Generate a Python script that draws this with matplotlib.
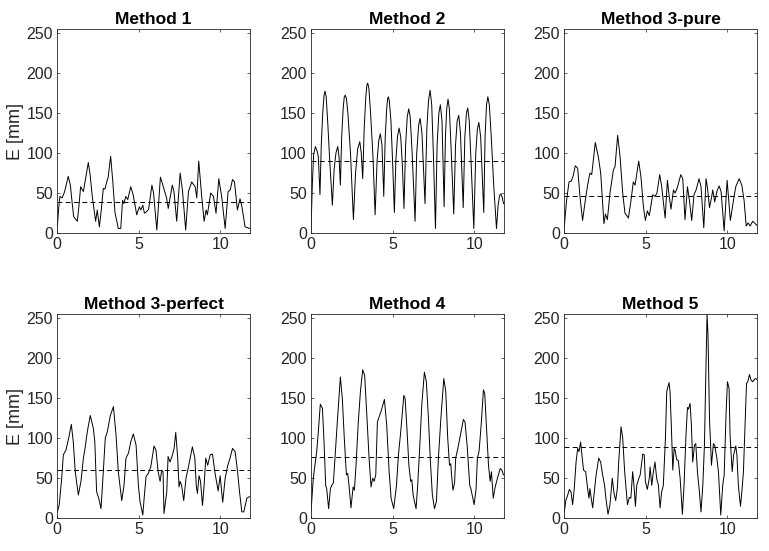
import matplotlib
matplotlib.use("Agg")
import matplotlib.pyplot as plt

plt.rcParams['font.family'] = ['Liberation Sans', 'DejaVu Sans']

titles = ["Method 1", "Method 2", "Method 3-pure", "Method 3-perfect", "Method 4", "Method 5"]
means = [39, 90, 46, 60, 76, 89]

m1 = [(0,8),(0.08,30),(0.16,46),(0.3,44),(0.45,52),(0.67,71),(0.8,60),(0.9,40),(1.0,21),(1.1,18),(1.23,15),(1.33,35),(1.43,58),(1.6,52),(1.75,70),(1.9,88),(2.0,75),(2.15,45),(2.35,15),(2.45,29),(2.58,8),(2.7,30),(2.82,56),(2.92,55),(3.03,64),(3.12,70),(3.27,96),(3.4,65),(3.54,25),(3.65,15),(3.74,6),(3.89,6),(4.0,41),(4.08,37),(4.2,46),(4.32,42),(4.5,58),(4.65,48),(4.87,23),(5.03,33),(5.12,29),(5.24,35),(5.34,25),(5.48,27),(5.6,30),(5.8,60),(5.9,50),(6.1,4),(6.32,70),(6.5,58),(6.7,44),(6.8,31),(7.05,60),(7.15,52),(7.32,15),(7.53,75),(7.67,54),(7.87,4),(8.04,52),(8.24,64),(8.45,58),(8.55,44),(8.67,90),(8.85,46),(9.0,15),(9.12,29),(9.2,23),(9.4,50),(9.57,46),(9.73,25),(9.9,68),(10.08,45),(10.29,6),(10.47,52),(10.6,54),(10.74,67),(10.86,64),(11.04,29),(11.2,43),(11.3,35),(11.51,8),(11.8,6)]

m2 = [(0,4),(0.08,60),(0.16,98),(0.27,108),(0.38,102),(0.45,95),(0.55,48),(0.63,110),(0.72,150),(0.8,172),(0.86,177),(0.93,170),(1.02,140),(1.15,90),(1.31,35),(1.42,80),(1.53,100),(1.64,108),(1.72,95),(1.8,60),(1.88,120),(1.97,155),(2.04,170),(2.1,172),(2.17,168),(2.26,150),(2.42,100),(2.6,17),(2.73,75),(2.86,105),(2.99,114),(3.08,100),(3.17,68),(3.26,130),(3.36,170),(3.43,185),(3.48,187),(3.55,180),(3.65,150),(3.8,95),(3.93,23),(4.05,90),(4.15,115),(4.25,124),(4.35,110),(4.46,46),(4.55,120),(4.64,155),(4.7,168),(4.74,170),(4.8,165),(4.9,140),(5.0,90),(5.11,26),(5.2,90),(5.3,120),(5.4,131),(5.5,120),(5.6,85),(5.7,31),(5.8,110),(5.9,145),(5.99,155),(6.08,145),(6.2,100),(6.38,15),(6.48,100),(6.6,135),(6.69,143),(6.8,125),(6.99,37),(7.1,130),(7.2,165),(7.3,178),(7.4,160),(7.5,100),(7.63,6),(7.73,110),(7.84,150),(7.93,160),(8.03,140),(8.16,33),(8.24,120),(8.32,155),(8.4,167),(8.48,155),(8.6,100),(8.75,24),(8.86,110),(8.96,140),(9.06,147),(9.16,125),(9.33,32),(9.43,120),(9.53,150),(9.61,156),(9.7,140),(9.82,85),(9.98,6),(10.1,100),(10.2,130),(10.29,138),(10.4,120),(10.59,26),(10.67,120),(10.76,160),(10.84,170),(10.93,160),(11.05,120),(11.2,60),(11.37,6),(11.47,35),(11.56,47),(11.64,49),(11.72,45),(11.8,37)]

m3_pure = [(0,8),(0.14,41),(0.29,64),(0.43,65),(0.55,72),(0.67,84),(0.82,81),(0.96,46),(1.12,16),(1.28,40),(1.43,60),(1.57,75),(1.68,73),(1.9,113),(2.09,95),(2.23,75),(2.43,12),(2.52,24),(2.64,17),(2.8,50),(3.01,79),(3.11,83),(3.27,122),(3.42,95),(3.58,50),(3.72,25),(3.93,19),(4.09,41),(4.23,64),(4.34,60),(4.56,90),(4.7,70),(4.85,33),(4.97,16),(5.09,28),(5.21,22),(5.42,48),(5.56,46),(5.68,50),(5.85,73),(5.97,58),(6.18,19),(6.32,66),(6.43,46),(6.54,30),(6.69,54),(6.79,50),(6.93,57),(7.14,73),(7.26,68),(7.4,17),(7.55,58),(7.67,41),(7.81,16),(7.95,48),(8.08,54),(8.26,68),(8.38,58),(8.55,7),(8.69,68),(8.78,56),(8.9,32),(9.02,44),(9.1,54),(9.22,39),(9.35,52),(9.49,59),(9.61,52),(9.8,3),(9.98,66),(10.18,16),(10.37,41),(10.51,58),(10.72,68),(10.88,60),(11.02,41),(11.15,9),(11.27,13),(11.39,9),(11.55,15),(11.7,12),(11.8,10)]

m3_perfect = [(0,8),(0.12,17),(0.27,50),(0.37,79),(0.53,85),(0.7,100),(0.86,117),(0.98,95),(1.1,58),(1.29,29),(1.45,46),(1.6,75),(1.7,87),(1.84,108),(2.02,128),(2.21,112),(2.3,95),(2.41,33),(2.54,25),(2.68,12),(2.82,58),(2.94,100),(3.07,108),(3.25,128),(3.44,139),(3.6,104),(3.74,58),(3.95,22),(4.09,41),(4.21,75),(4.36,81),(4.5,95),(4.66,105),(4.83,91),(4.97,41),(5.07,21),(5.24,4),(5.34,29),(5.44,52),(5.58,56),(5.73,64),(5.93,90),(6.05,85),(6.18,58),(6.3,46),(6.4,60),(6.48,58),(6.54,6),(6.71,33),(6.79,77),(6.91,70),(7.06,79),(7.16,87),(7.26,107),(7.38,75),(7.46,39),(7.53,46),(7.62,41),(7.75,22),(7.89,50),(8.04,64),(8.28,89),(8.43,75),(8.52,40),(8.59,31),(8.69,53),(8.78,46),(8.9,16),(9.0,41),(9.1,75),(9.22,66),(9.37,79),(9.51,80),(9.68,55),(9.86,34),(9.98,53),(10.14,20),(10.29,50),(10.45,66),(10.59,75),(10.74,87),(10.9,83),(11.04,60),(11.17,33),(11.31,8),(11.43,8),(11.62,25),(11.78,27)]

m4 = [(0,8),(0.14,50),(0.24,66),(0.35,83),(0.45,108),(0.57,142),(0.7,137),(0.8,95),(0.9,41),(0.96,37),(1.08,12),(1.19,37),(1.27,41),(1.37,44),(1.47,75),(1.6,116),(1.8,176),(1.92,149),(2.04,100),(2.17,54),(2.25,56),(2.33,41),(2.45,13),(2.58,39),(2.66,35),(2.76,66),(2.9,120),(3.03,158),(3.17,185),(3.29,178),(3.41,133),(3.56,75),(3.68,39),(3.78,50),(3.87,46),(3.97,54),(4.07,120),(4.17,126),(4.29,133),(4.5,148),(4.64,116),(4.79,58),(4.91,25),(5.07,12),(5.24,41),(5.36,79),(5.5,108),(5.69,153),(5.77,149),(5.89,108),(6.0,66),(6.11,46),(6.18,48),(6.26,29),(6.44,12),(6.54,41),(6.67,91),(6.79,141),(6.95,182),(7.07,170),(7.2,124),(7.32,70),(7.44,29),(7.57,12),(7.69,21),(7.81,75),(7.96,124),(8.14,174),(8.26,158),(8.38,100),(8.49,66),(8.57,68),(8.6,58),(8.7,35),(8.8,44),(8.87,75),(9.0,87),(9.2,108),(9.34,123),(9.44,120),(9.57,91),(9.73,41),(9.8,37),(10.0,17),(10.12,37),(10.2,75),(10.3,83),(10.43,116),(10.57,160),(10.65,155),(10.75,116),(10.88,66),(10.98,46),(11.06,58),(11.17,25),(11.29,39),(11.43,50),(11.6,62),(11.7,60),(11.8,54)]

m5 = [(0,8),(0.1,23),(0.18,27),(0.31,36),(0.41,33),(0.51,17),(0.61,37),(0.72,70),(0.82,87),(0.9,83),(1.0,95),(1.1,75),(1.18,60),(1.31,58),(1.43,37),(1.51,25),(1.57,37),(1.65,25),(1.74,13),(1.84,33),(1.95,54),(2.11,75),(2.23,70),(2.35,54),(2.47,41),(2.55,25),(2.68,5),(2.8,17),(2.94,50),(3.05,31),(3.15,22),(3.25,37),(3.35,75),(3.48,114),(3.58,100),(3.7,58),(3.87,17),(3.99,26),(4.08,25),(4.19,58),(4.27,41),(4.36,15),(4.44,41),(4.54,48),(4.65,54),(4.81,80),(4.9,79),(4.97,46),(5.09,36),(5.21,50),(5.26,64),(5.36,41),(5.46,58),(5.56,70),(5.66,50),(5.77,41),(5.87,13),(5.97,33),(6.07,41),(6.2,100),(6.28,158),(6.42,169),(6.48,158),(6.56,116),(6.65,60),(6.73,87),(6.79,85),(6.89,73),(6.99,72),(7.1,50),(7.24,5),(7.34,41),(7.46,104),(7.55,138),(7.61,136),(7.71,143),(7.79,116),(7.87,70),(7.98,91),(8.06,93),(8.16,58),(8.28,33),(8.38,8),(8.49,41),(8.59,91),(8.67,174),(8.75,254),(8.81,228),(8.9,124),(9.02,66),(9.14,93),(9.22,91),(9.35,75),(9.45,58),(9.59,4),(9.71,41),(9.8,54),(9.92,133),(10.0,170),(10.1,162),(10.16,104),(10.29,58),(10.38,79),(10.51,90),(10.58,79),(10.67,41),(10.8,15),(10.9,37),(10.98,58),(11.08,116),(11.17,168),(11.25,170),(11.35,179),(11.45,172),(11.55,170),(11.7,174),(11.8,173)]

series = [m1, m2, m3_pure, m3_perfect, m4, m5]
x_ticks = [0, 5, 10]
y_ticks = [0, 50, 100, 150, 200, 250]
x_max = 11.8
y_max = 254

W, H = 769, 551
fig = plt.figure(figsize=(W / 100, H / 100), dpi=100)
lefts = [57.3, 311, 564.3]
tops = [29.3, 314.3]
aw, ah = 192.5, 204

dark = (0.15, 0.15, 0.15)
for i, (data, title, mu) in enumerate(zip(series, titles, means)):
    r, c = divmod(i, 3)
    ax = fig.add_axes([lefts[c] / W, 1 - (tops[r] + ah) / H, aw / W, ah / H])
    xs = [p[0] for p in data]
    ys = [p[1] for p in data]
    ax.plot(xs, ys, color='black', lw=0.7)
    ax.axhline(mu, color='black', lw=0.7, ls=(0, (5, 3.5)))
    ax.set_xlim(0, x_max)
    ax.set_ylim(0, y_max)
    ax.set_xticks(x_ticks)
    ax.set_yticks(y_ticks)
    ax.tick_params(direction='in', top=True, right=True, length=2.5, width=0.5,
                   labelsize=11.5, colors=dark, pad=3)
    for sp in ax.spines.values():
        sp.set_color(dark)
        sp.set_linewidth(0.6)
    ax.set_title(title, fontsize=12.5, fontweight='bold', pad=4)
    if c == 0:
        ax.set_ylabel("E [mm]", fontsize=13, color=dark, labelpad=2)

fig.savefig("out.png", dpi=100)
